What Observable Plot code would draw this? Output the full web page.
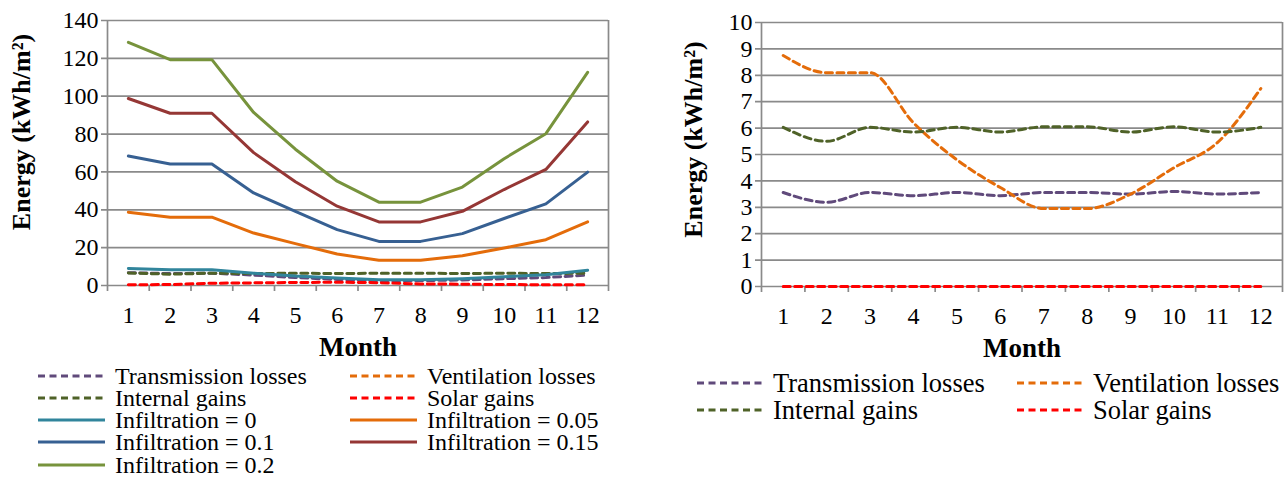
<!DOCTYPE html>
<html>
<head>
<meta charset="utf-8">
<script src="https://cdn.jsdelivr.net/npm/d3@7"></script>
<script src="https://cdn.jsdelivr.net/npm/@observablehq/plot@0.6"></script>
<style>
  html, body { margin: 0; padding: 0; background: #fff; }
  #root { position: relative; width: 1288px; height: 479px; background: #fff; overflow: hidden; font-family: "Liberation Serif", "Times New Roman", serif; }
  .pane { position: absolute; top: 0; }
  #legend { position: absolute; left: 0; top: 0; }
</style>
</head>
<body>
<div id="root">
  <div id="left" class="pane" style="left:0px"></div>
  <div id="right" class="pane" style="left:640px"></div>
  <svg id="legend" width="1288" height="479"></svg>
</div>
<script>
// ---------- data ----------
const months = [1, 2, 3, 4, 5, 6, 7, 8, 9, 10, 11, 12];
const yTicksLeft = [0, 20, 40, 60, 80, 100, 120, 140];
const yTicksRight = [0, 1, 2, 3, 4, 5, 6, 7, 8, 9, 10];
const xLabel = "Month";
const yLabel = "Energy (kWh/m²)";

// left chart series
const leftTransmission = [6.8, 6.3, 6.5, 5.5, 4.2, 3.2, 2.6, 2.6, 2.9, 3.6, 4.2, 5.5];
const leftVentilation  = [];
const leftInternal     = [6.6, 6.0, 6.5, 6.3, 6.5, 6.3, 6.5, 6.5, 6.3, 6.5, 6.3, 6.5];
const leftSolar        = [0.4, 0.5, 1.2, 1.4, 1.6, 1.7, 1.5, 0.8, 0.7, 0.5, 0.4, 0.4];
const infiltration0    = [9.0, 8.3, 8.3, 6.5, 5.0, 4.0, 3.0, 3.0, 3.6, 4.6, 5.7, 8.1];
const infiltration005  = [38.7, 36.1, 36.1, 27.7, 22.1, 16.6, 13.3, 13.3, 15.7, 19.8, 24.2, 33.6];
const infiltration01   = [68.4, 64.2, 64.2, 48.9, 39.2, 29.5, 23.3, 23.3, 27.4, 35.4, 43.1, 59.9];
const infiltration015  = [98.8, 91.0, 91.0, 70.2, 54.8, 41.9, 33.6, 33.6, 39.2, 50.7, 61.3, 86.4];
const infiltration02   = [128.5, 119.3, 119.3, 91.4, 72.0, 55.1, 44.0, 44.0, 52.0, 67.0, 80.2, 112.6];

// right chart series
const rightTransmission = [3.56, 3.19, 3.56, 3.44, 3.56, 3.44, 3.56, 3.56, 3.50, 3.60, 3.50, 3.56];
const rightVentilation  = [8.75, 8.10, 8.10, 6.20, 4.80, 3.75, 2.95, 2.95, 3.50, 4.50, 5.45, 7.50];
const rightInternal     = [6.03, 5.50, 6.03, 5.85, 6.03, 5.85, 6.05, 6.05, 5.85, 6.05, 5.85, 6.03];
const rightSolar        = [0, 0, 0, 0, 0, 0, 0, 0, 0, 0, 0, 0];

// series names & colours
const dashedNames = ["Transmission losses", "Ventilation losses", "Internal gains", "Solar gains"];
const dashedColors = ["#604A7B", "#E46C0A", "#4F6228", "#FF0000"];
const solidNames = ["Infiltration = 0", "Infiltration = 0.05", "Infiltration = 0.1", "Infiltration = 0.15", "Infiltration = 0.2"];
const solidColors = ["#31859C", "#E46C0A", "#376092", "#953735", "#77933C"];

// ---------- helpers ----------
function longForm(names, arrays) {
  const rows = [];
  names.forEach((n, i) => {
    const arr = arrays[i];
    if (!arr || !arr.length) return;
    arr.forEach((v, j) => rows.push({ series: n, month: months[j], value: v }));
  });
  return rows;
}
const leftDashed = longForm(dashedNames, [leftTransmission, leftVentilation, leftInternal, leftSolar]);
const leftSolid = longForm(solidNames, [infiltration0, infiltration005, infiltration01, infiltration015, infiltration02]);
const rightDashed = longForm(dashedNames, [rightTransmission, rightVentilation, rightInternal, rightSolar]);

const allNames = dashedNames.concat(solidNames);
const allColors = dashedColors.concat(solidColors);
const bounds = d3.range(0.5, 13, 1);
const FONT = "'Liberation Serif', 'Times New Roman', serif";
const GRID = "#8a8a8a";

function chart({ width, height, mt, mb, ml, mr, yDomain, yTicks, dashed, solid, curve, ylabelDx, ylabelDy }) {
  const plotW = width - ml - mr, plotH = height - mt - mb;
  const xUnit = 12 / plotW;                       // data units per px
  const yUnit = (yDomain[1] - yDomain[0]) / plotH;
  const marks = [
    Plot.ruleY(yTicks, { x1: 0.5 - 6 * xUnit, x2: 12.5, stroke: GRID, strokeWidth: 1.7 }),
    Plot.ruleX(bounds, { y1: yDomain[0], y2: yDomain[0] - 6 * yUnit, stroke: GRID, strokeWidth: 1.7 }),
    Plot.ruleX([0.5, 12.5], { stroke: GRID, strokeWidth: 1.7 }),
    Plot.line(dashed, { x: "month", y: "value", z: "series", stroke: "series", strokeWidth: 3, strokeDasharray: "7,4.5", curve }),
  ];
  if (solid) marks.push(Plot.line(solid, { x: "month", y: "value", z: "series", stroke: "series", strokeWidth: 3, curve }));
  marks.push(
    Plot.axisX(months, { tickSize: 0, tickPadding: 20, fontSize: 24, fill: "#000", label: null }),
    Plot.axisY(yTicks, { tickSize: 0, tickPadding: 9, fontSize: 24, fill: "#000", label: null }),
    Plot.text([xLabel], { frameAnchor: "bottom", textAnchor: "middle", lineAnchor: "middle", dy: 62, fontSize: 27, fontWeight: "bold", fill: "#000", fontFamily: FONT }),
    Plot.text([yLabel], { frameAnchor: "left", textAnchor: "middle", lineAnchor: "middle", dx: ylabelDx, dy: ylabelDy, rotate: -90, fontSize: 26, fontWeight: "bold", fill: "#000", fontFamily: FONT })
  );
  return Plot.plot({
    width, height,
    marginTop: mt, marginBottom: mb, marginLeft: ml, marginRight: mr,
    style: { fontFamily: FONT, fontSize: "24px", color: "#000", background: "transparent", overflow: "visible" },
    x: { type: "linear", domain: [0.5, 12.5], axis: null },
    y: { domain: yDomain, axis: null },
    color: { domain: allNames, range: allColors },
    marks
  });
}

document.getElementById("left").append(chart({
  width: 640, height: 360, mt: 20, mb: 75, ml: 107, mr: 32,
  yDomain: [0, 140], yTicks: yTicksLeft,
  dashed: leftDashed, solid: leftSolid, curve: "linear", ylabelDx: -86, ylabelDy: -21
}));
document.getElementById("right").append(chart({
  width: 648, height: 360, mt: 22, mb: 74, ml: 121, mr: 6,
  yDomain: [0, 10], yTicks: yTicksRight,
  dashed: rightDashed, solid: null, curve: "monotone-x", ylabelDx: -68, ylabelDy: -15
}));

// ---------- legends ----------
const legend = d3.select("#legend");
function drawLegend(items, cols, rows, sampleLen, textGap, fontSize) {
  items.forEach((it, i) => {
    const c = cols[i % 2], y = rows[Math.floor(i / 2)];
    legend.append("line")
      .attr("x1", c).attr("x2", c + sampleLen).attr("y1", y).attr("y2", y)
      .attr("stroke", it.color).attr("stroke-width", 3)
      .attr("stroke-dasharray", it.dashed ? "7,4.5" : null);
    legend.append("text")
      .attr("x", c + sampleLen + textGap).attr("y", y).attr("dy", "0.33em")
      .style("font-family", FONT).style("font-size", fontSize + "px").attr("fill", "#000")
      .text(it.name);
  });
}
const leftItems = dashedNames.map((n, i) => ({ name: n, color: dashedColors[i], dashed: true }))
  .concat(solidNames.map((n, i) => ({ name: n, color: solidColors[i], dashed: false })));
drawLegend(leftItems, [38, 350], [376, 398, 420, 442, 465], 67, 10, 24);
const rightItems = dashedNames.map((n, i) => ({ name: n, color: dashedColors[i], dashed: true }));
drawLegend(rightItems, [697, 1017], [383, 410], 67, 9, 26.5);
</script>
</body>
</html>
